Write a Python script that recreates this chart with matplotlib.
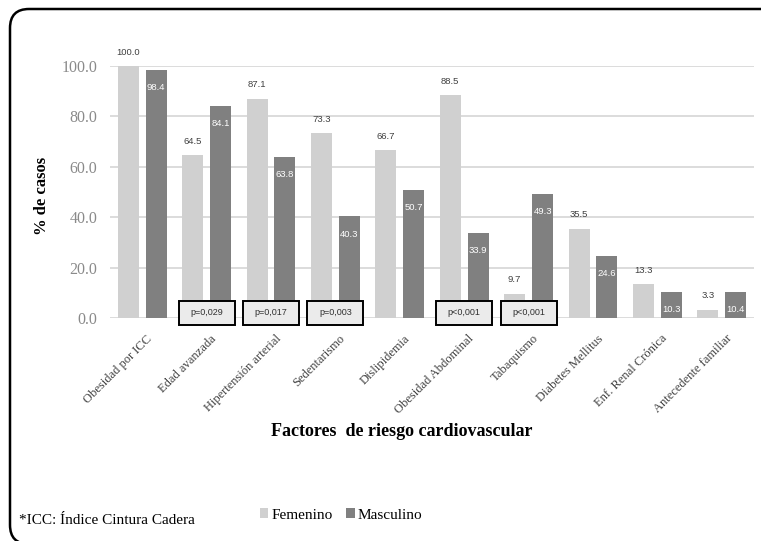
import numpy as np
import matplotlib.pyplot as plt
from matplotlib.patches import FancyBboxPatch, Rectangle

categorias = ["Obesidad por ICC", "Edad avanzada", "Hipertensión arterial",
              "Sedentarismo", "Dislipidemia", "Obesidad Abdominal",
              "Tabaquismo", "Diabetes Mellitus", "Enf. Renal Crónica",
              "Antecedente familiar"]
femenino = [100.0, 64.5, 87.1, 73.3, 66.7, 88.5, 9.7, 35.5, 13.3, 3.3]
masculino = [98.4, 84.1, 63.8, 40.3, 50.7, 33.9, 49.3, 24.6, 10.3, 10.4]
p_idx = [1, 2, 3, 5, 6]
p_txt = ["p=0,029", "p=0,017", "p=0,003", "p<0,001", "p<0,001"]

serif = "Liberation Serif"
sans = "Liberation Sans"
c_fem = "#d0d0d0"
c_mas = "#808080"

fig = plt.figure(figsize=(7.61, 5.41), dpi=100)
ax = fig.add_axes([110 / 761, 1 - 318 / 541, 644 / 761, 252 / 541])

x = np.arange(len(categorias))
w = 0.326
off = 0.217
b1 = ax.bar(x - off, femenino, w, color=c_fem, label="Femenino", zorder=2)
b2 = ax.bar(x + off, masculino, w, color=c_mas, label="Masculino", zorder=2)

for i in range(len(categorias)):
    ax.text(x[i] - off, femenino[i] + 5.5, f"{femenino[i]:.1f}", ha="center",
            va="center", fontsize=6.8, color="#404040", family=sans, clip_on=False)
    ax.text(x[i] + off, masculino[i] - 7, f"{masculino[i]:.1f}", ha="center",
            va="center", fontsize=6.8, color="white", family=sans, zorder=3)

# cajas con valor p
for i, t in zip(p_idx, p_txt):
    r = Rectangle((x[i] - 0.435, -2.7), 0.87, 9.5, facecolor="#ebebeb",
                  edgecolor="black", lw=1.4, zorder=4, clip_on=False)
    ax.add_patch(r)
    ax.text(x[i], 2.05, t, ha="center", va="center", fontsize=6.5,
            family=sans, color="#303030", zorder=5, clip_on=False)

ax.set_xlim(-0.5, len(categorias) - 0.5)
ax.set_ylim(0, 100)
ax.set_yticks(np.arange(0, 101, 20))
ax.set_yticklabels([f"{v:.1f}" for v in np.arange(0, 101, 20)],
                   family=serif, fontsize=11.5, color="#8a8a8a")
ax.yaxis.grid(True, color="#d9d9d9", lw=1.3, zorder=0)
ax.set_axisbelow(True)
ax.tick_params(axis="y", length=0, pad=9)
ax.tick_params(axis="x", length=0)
for s in ax.spines.values():
    s.set_visible(False)

ax.set_xticks(x + 0.06)
ax.set_xticklabels(categorias, rotation=45, ha="right", va="top",
                   rotation_mode="anchor", family=serif, fontsize=9,
                   color="#404040")
ax.tick_params(axis="x", pad=10.5)

fig.text(42 / 761, 1 - 196 / 541, "% de casos", rotation=90, ha="center",
         va="center", family=serif, fontsize=12, fontweight="bold")
fig.text(402 / 761, 1 - 431 / 541, "Factores  de riesgo cardiovascular",
         ha="center", va="center", family=serif, fontsize=13,
         fontweight="bold")

fig.text(19 / 761, 1 - 521 / 541, "*ICC: Índice Cintura Cadera", ha="left",
         va="center", family=serif, fontsize=11)

fig.legend(handles=[b1, b2], loc="center", bbox_to_anchor=(341 / 761, 1 - 515 / 541),
           ncol=2, frameon=False, prop={"family": serif, "size": 11},
           handlelength=0.55, handleheight=0.55, handletextpad=0.2,
           columnspacing=0.9)

# marco redondeado (solo se ven el borde superior e izquierdo)
frame = FancyBboxPatch((10 / 761, -3 / 541), 1000 / 761, 535 / 541,
                       boxstyle="round,pad=0,rounding_size=0.025",
                       transform=fig.transFigure, facecolor="none",
                       edgecolor="black", lw=1.8, clip_on=False,
                       mutation_aspect=761 / 541)
fig.patches.append(frame)

fig.savefig("out.png", dpi=100)
